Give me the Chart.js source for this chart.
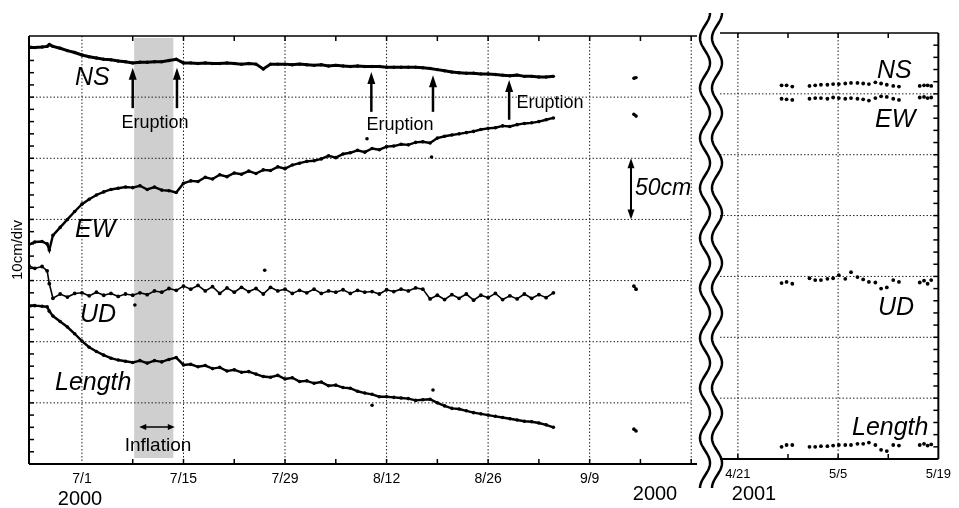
<!DOCTYPE html>
<html>
<head>
<meta charset="utf-8">
<title>GPS displacement 2000-2001</title>
<script src="https://cdn.jsdelivr.net/npm/chart.js@4.4.0/dist/chart.umd.min.js"></script>
<style>
  body { margin: 0; background: #fff; }
  #wrap { position: relative; width: 959px; height: 508px; }
  #wrap canvas { position: absolute; left: 0; top: 0; }
</style>
</head>
<body>
<div id="wrap">
  <canvas id="c2000" width="959" height="508"></canvas>
  <canvas id="c2001" width="959" height="508"></canvas>
</div>
<script>
// Days counted from 7/1/2000 (left panel) and from 4/21/2001 (right panel)
const days2000 = [-7.3, -6.5, -5.5, -4.8, -4.5,
  -4, -3, -2, -1, 0, 1, 2, 3, 4, 5,
  6, 7, 8, 9, 10, 11, 12, 13, 14, 15,
  16, 17, 18, 19, 20, 21, 22, 23, 24, 25,
  26, 27, 28, 29, 30, 31, 32, 33, 34, 35,
  36, 37, 38, 39, 40, 41, 42, 43, 44, 45,
  46, 47, 48, 49, 50, 51, 52, 53, 54, 55,
  56, 57, 58, 59, 60, 61, 62, 63, 64, 65,
  70, 76.1, 76.4];

// displacement, cm (axis 0..70, 10 cm per division)
const ns2000 = [68.2, 68.1, 68.2, 68.3, 68.6,
  68.3, 68.0, 67.6, 67.3, 66.9, 66.6, 66.4, 66.2, 66.1, 65.9,
  65.8, 65.6, 65.7, 65.7, 65.8, 65.8, 66.0, 66.2, 65.6, 65.6,
  65.5, 65.6, 65.5, 65.5, 65.6, 65.5, 65.4, 65.5, 65.4, 64.6,
  65.4, 65.4, 65.4, 65.3, 65.4, 65.3, 65.2, 65.3, 65.1, 65.2,
  65.1, 65.0, 65.1, 65.0, 65.0, 65.0, 64.9, 64.9, 64.9, 64.9,
  64.9, 64.8, 64.7, 64.5, 64.3, 64.1, 64.0, 63.9, 63.9, 63.8,
  63.8, 63.7, 63.6, 63.5, 63.6, 63.4, 63.4, 63.3, 63.3, 63.4,
  null, 63.1, 63.2];

const ew2000 = [35.9, 36.3, 36.4, 36.0, 35.0,
  37.4, 38.7, 40.0, 41.3, 42.5, 43.3, 44.0, 44.5, 44.9, 45.1,
  45.3, 45.2, 45.5, 44.9, 45.3, 44.8, 44.7, 44.4, 45.9, 46.3,
  46.2, 46.9, 46.6, 47.3, 47.0, 47.6, 47.4, 47.9, 47.5, 48.1,
  48.0, 48.6, 48.3, 48.9, 49.2, 49.5, 49.6, 49.9, 50.4, 50.1,
  50.7, 50.9, 51.3, 51.0, 51.6, 51.4, 51.9, 52.0, 52.3, 52.2,
  52.6, 52.7, 52.5, 53.3, 53.6, 53.8, 54.0, 54.2, 54.4, 54.7,
  54.9, 55.0, 55.3, 55.2, 55.5, 55.7, 55.8, 56.0, 56.3, 56.6,
  null, 57.2, 56.9];

const ud2000 = [32.4, 32.0, 32.3, 31.6, 29.5,
  27.1, 27.8, 27.3, 27.9, 28.0, 27.5, 28.1, 27.6, 27.9, 27.4,
  27.8, 27.6, 28.0, 27.7, 28.3, 28.1, 28.7, 28.4, 29.1, 28.6,
  29.2, 28.3, 29.0, 27.9, 28.8, 28.1, 28.9, 28.2, 28.7, 27.8,
  28.9, 28.3, 28.6, 27.9, 28.4, 28.0, 28.6, 27.9, 28.3, 28.1,
  28.5, 27.9, 28.4, 28.1, 28.2, 27.8, 28.5, 28.2, 28.6, 28.3,
  28.8, 28.6, 27.0, 27.6, 26.9, 27.7, 27.1, 27.8, 26.8, 27.6,
  27.2, 27.9, 26.9, 27.5, 27.0, 27.8, 27.1, 27.7, 27.2, 28.0,
  null, 29.1, 28.6];

const len2000 = [25.8, 25.9, 25.8, 25.7, 25.0,
  24.2, 23.3, 22.4, 21.3, 20.1, 19.1, 18.4, 17.8, 17.3, 17.0,
  16.8, 16.6, 16.9, 16.5, 16.9, 16.7, 17.1, 17.4, 16.2, 16.3,
  15.9, 16.1, 15.6, 15.8, 15.2, 15.4, 15.0, 15.1, 14.7, 14.3,
  14.2, 14.5, 13.9, 14.1, 13.5, 13.6, 13.2, 13.4, 12.8, 12.9,
  12.5, 12.4, 11.9, 11.6, 11.4, 11.0, 11.0, 10.9, 10.8, 10.7,
  10.4, 10.5, 10.6, 10.0, 9.5, 9.1, 9.0, 8.7, 8.4, 8.2,
  8.0, 7.8, 7.6, 7.4, 7.2, 7.0, 6.9, 6.7, 6.4, 6.0,
  null, 5.7, 5.4];

// stray points off the main traces
const strayDays2000 = [39.3, 48.2, 25.2, 7.3, 40.0, 48.4];
const strayVals2000 = [53.2, 50.2, 31.7, 26.0, 9.6, 12.1];

const days2001 = [6.1, 6.8, 7.6, 10.0, 10.8, 11.6, 12.5, 13.3, 14.1, 15.0, 15.8, 16.7,
  17.5, 18.3, 19.2, 20.0, 20.8, 21.7, 22.5, 25.4, 26.0, 26.5, 27.0];
const ns2001 = [61.4, 61.4, 61.2, 61.3, 61.4, 61.5, 61.5, 61.6, 61.6, 61.7, 61.8, 61.8,
  61.7, 61.6, 61.9, 61.7, 61.5, 61.3, 61.2, 61.3, 61.4, 61.4, 61.3];
const ew2001 = [59.2, 59.1, 59.0, 59.2, 59.3, 59.3, 59.2, 59.4, 59.3, 59.2, 59.3, 59.2,
  59.1, 58.9, 59.3, 59.6, 59.5, 59.2, 59.0, 59.4, 59.5, 59.3, 59.4];
const ud2001 = [28.9, 29.1, 28.8, 29.7, 29.4, 29.4, 29.6, 29.7, 30.2, 29.6, 30.7, 29.9,
  29.5, 29.1, 29.0, 28.0, 28.2, 29.4, 29.1, 29.0, 29.3, 28.8, 29.4];
const len2001 = [2.0, 2.3, 2.3, 2.0, 2.0, 2.1, 2.1, 2.2, 2.3, 2.3, 2.3, 2.5,
  2.5, 2.7, 2.3, 1.5, 1.3, 2.3, 2.2, 2.3, 2.5, 2.2, 2.4];

// tick labels
const tickDays2000 = [0, 14, 28, 42, 56, 70];
const tickLabels2000 = ['7/1', '7/15', '7/29', '8/12', '8/26', '9/9'];
const tickDays2001 = [0, 14, 28];
const tickLabels2001 = ['4/21', '5/5', '5/19'];

// events
const eruptionDays = [7.0, 13.1, 39.9, 48.4, 58.9];
const inflationDays = [7.2, 12.6];

const FONT = '"Liberation Sans", Arial, Helvetica, sans-serif';
Chart.defaults.font.family = FONT;
Chart.defaults.color = '#000';

function pts(xs, ys) {
  return xs.map((d, i) => ({ x: d, y: ys[i] }));
}

function dotted(ctx, x1, y1, x2, y2) {
  ctx.save();
  ctx.setLineDash([1.5, 2]);
  ctx.lineWidth = 1;
  ctx.strokeStyle = '#222';
  ctx.beginPath(); ctx.moveTo(x1, y1); ctx.lineTo(x2, y2); ctx.stroke();
  ctx.restore();
}

function solid(ctx, x1, y1, x2, y2, w) {
  ctx.save();
  ctx.lineWidth = w;
  ctx.strokeStyle = '#000';
  ctx.beginPath(); ctx.moveTo(x1, y1); ctx.lineTo(x2, y2); ctx.stroke();
  ctx.restore();
}

function head(ctx, x, y, dx, dy, len, half) {
  // filled arrow head pointing along (dx, dy)
  ctx.beginPath();
  ctx.moveTo(x, y);
  ctx.lineTo(x - dx * len - dy * half, y - dy * len + dx * half);
  ctx.lineTo(x - dx * len + dy * half, y - dy * len - dx * half);
  ctx.closePath();
  ctx.fill();
}

function text(ctx, str, x, y, font, align) {
  ctx.font = font;
  ctx.textAlign = align || 'left';
  ctx.textBaseline = 'alphabetic';
  ctx.fillText(str, x, y);
}

// grid, frame and notes for the 2000 panel
const frame2000 = {
  id: 'frame2000',
  beforeDatasetsDraw(chart) {
    const { ctx, chartArea: a, scales: { x, y } } = chart;
    const gridRight = x.getPixelForValue(84);
    ctx.save();
    ctx.fillStyle = '#cfcfcf';
    const b0 = x.getPixelForValue(inflationDays[0]);
    const b1 = x.getPixelForValue(inflationDays[1]);
    ctx.fillRect(b0, a.top + 2, b1 - b0, a.bottom - a.top - 8);
    for (let v = 10; v < 70; v += 10) dotted(ctx, a.left, y.getPixelForValue(v), gridRight, y.getPixelForValue(v));
    for (let d = 0; d <= 84; d += 14) dotted(ctx, x.getPixelForValue(d), a.top, x.getPixelForValue(d), a.bottom);
    solid(ctx, a.left, a.top, a.left, a.bottom, 2);
    solid(ctx, a.left, a.top, a.right, a.top, 1.5);
    solid(ctx, a.left, a.bottom, a.right, a.bottom, 2);
    for (let v = 2; v < 70; v += 2) solid(ctx, a.left, y.getPixelForValue(v), a.left + 5, y.getPixelForValue(v), 1.5);
    for (let d = 7; d <= 84; d += 7) {
      const px = x.getPixelForValue(d);
      solid(ctx, px, a.bottom, px, a.bottom - 5, 1.5);
      solid(ctx, px, a.top, px, a.top + 5, 1.5);
    }
    ctx.restore();
  },
  afterDatasetsDraw(chart) {
    const { ctx, scales: { x, y } } = chart;
    ctx.save();
    ctx.fillStyle = '#000';
    ctx.strokeStyle = '#000';
    // eruption arrows (tip, foot in cm)
    const spans = [[64.8, 58.2], [64.8, 58.2], [64.1, 57.6], [63.6, 57.6], [62.8, 56.3]];
    eruptionDays.forEach((d, i) => {
      const px = x.getPixelForValue(d);
      const top = y.getPixelForValue(spans[i][0]);
      const bot = y.getPixelForValue(spans[i][1]);
      ctx.lineWidth = 2.5;
      ctx.beginPath(); ctx.moveTo(px, bot); ctx.lineTo(px, top + 8); ctx.stroke();
      head(ctx, px, top, 0, -1, 12, 4);
    });
    // 50cm scale bar
    const sx = x.getPixelForValue(75.7);
    const s0 = y.getPixelForValue(50), s1 = y.getPixelForValue(40);
    ctx.lineWidth = 2;
    ctx.beginPath(); ctx.moveTo(sx, s0 + 8); ctx.lineTo(sx, s1 - 8); ctx.stroke();
    head(ctx, sx, s0, 0, -1, 10, 3.5);
    head(ctx, sx, s1, 0, 1, 10, 3.5);
    // inflation span
    const iy = y.getPixelForValue(6.05);
    const i0 = x.getPixelForValue(7.9), i1 = x.getPixelForValue(12.8);
    ctx.lineWidth = 1.5;
    ctx.beginPath(); ctx.moveTo(i0 + 5, iy); ctx.lineTo(i1 - 5, iy); ctx.stroke();
    head(ctx, i0, iy, -1, 0, 7, 3);
    head(ctx, i1, iy, 1, 0, 7, 3);

    const lab = 'italic 25px ' + FONT;
    text(ctx, 'NS', 75, 85, lab);
    text(ctx, 'EW', 75, 237, lab);
    text(ctx, 'UD', 80, 322, lab);
    text(ctx, 'Length', 55, 390, lab);
    const note = '18px ' + FONT;
    text(ctx, 'Eruption', 155, 128, note, 'center');
    text(ctx, 'Eruption', 400, 130, note, 'center');
    text(ctx, 'Eruption', 550, 108, note, 'center');
    text(ctx, 'Inflation', 158, 451, '19px ' + FONT, 'center');
    text(ctx, '50cm', 635, 195, 'italic 23px ' + FONT);
    text(ctx, '2000', 80, 505, '20px ' + FONT, 'center');
    text(ctx, '2000', 655, 500, '20px ' + FONT, 'center');
    ctx.restore();
  }
};

const frame2001 = {
  id: 'frame2001',
  beforeDatasetsDraw(chart) {
    const { ctx, chartArea: a, scales: { x, y } } = chart;
    ctx.save();
    for (let v = 10; v < 70; v += 10) dotted(ctx, a.left, y.getPixelForValue(v), a.right, y.getPixelForValue(v));
    for (let d = 0; d < 28; d += 14) dotted(ctx, x.getPixelForValue(d), a.top, x.getPixelForValue(d), a.bottom);
    solid(ctx, a.right, a.top, a.right, a.bottom, 2);
    solid(ctx, a.left, a.top, a.right, a.top, 1.5);
    solid(ctx, a.left, a.bottom, a.right, a.bottom, 2);
    for (let v = 2; v < 70; v += 2) solid(ctx, a.right, y.getPixelForValue(v), a.right - 5, y.getPixelForValue(v), 1.5);
    for (let d = 0; d < 28; d += 7) {
      const px = x.getPixelForValue(d);
      solid(ctx, px, a.bottom, px, a.bottom - 5, 1.5);
      solid(ctx, px, a.top, px, a.top + 5, 1.5);
    }
    ctx.restore();
  },
  afterDatasetsDraw(chart) {
    const { ctx } = chart;
    ctx.save();
    ctx.fillStyle = '#000';
    const lab = 'italic 25px ' + FONT;
    text(ctx, 'NS', 877, 78, lab);
    text(ctx, 'EW', 875, 127, lab);
    text(ctx, 'UD', 878, 315, lab);
    text(ctx, 'Length', 852, 435, lab);
    text(ctx, '2001', 754, 500, '20px ' + FONT, 'center');
    // axis break
    ctx.lineWidth = 2.5;
    ctx.strokeStyle = '#000';
    [705, 717].forEach(cx => {
      ctx.beginPath();
      for (let py = 13; py <= 488; py += 1) {
        const px = cx + 5 * Math.cos((py - 13) / 50 * 2 * Math.PI);
        if (py === 13) ctx.moveTo(px, py); else ctx.lineTo(px, py);
      }
      ctx.stroke();
    });
    ctx.restore();
  }
};

function trace(xs, ys, width, r) {
  return {
    data: pts(xs, ys),
    borderColor: '#000',
    backgroundColor: '#000',
    borderWidth: width,
    pointRadius: r,
    pointBorderWidth: 0,
    pointBackgroundColor: '#000',
    spanGaps: false,
    tension: 0
  };
}

function dots(xs, ys, r) {
  return {
    data: pts(xs, ys),
    showLine: false,
    pointRadius: r,
    pointBorderWidth: 0,
    pointBackgroundColor: '#000'
  };
}

new Chart(document.getElementById('c2000'), {
  type: 'line',
  data: {
    datasets: [
      trace(days2000, ns2000, 3, 1.7),
      trace(days2000, ew2000, 2.4, 1.8),
      trace(days2000, ud2000, 1.6, 1.9),
      trace(days2000, len2000, 2.4, 1.8),
      dots(strayDays2000, strayVals2000, 1.8)
    ]
  },
  options: {
    responsive: false,
    animation: false,
    layout: { padding: { left: 0, top: 36, right: 262, bottom: 0 } },
    plugins: { legend: { display: false }, tooltip: { enabled: false } },
    scales: {
      x: {
        type: 'linear', min: -7.3, max: 84.8,
        grid: { display: false, drawTicks: false },
        border: { display: false },
        afterBuildTicks: s => { s.ticks = tickDays2000.map(v => ({ value: v })); },
        afterFit: s => { s.height = 44; },
        ticks: {
          padding: 7, maxRotation: 0, autoSkip: false, color: '#000',
          font: { size: 14 },
          callback: (v, i) => tickLabels2000[i]
        }
      },
      y: {
        min: 0, max: 70,
        grid: { display: false, drawTicks: false },
        border: { display: false },
        ticks: { display: false },
        title: { display: true, text: '10cm/div', color: '#000', font: { size: 15 }, padding: { top: 9, bottom: 0 } },
        afterFit: s => { s.width = 29; }
      }
    }
  },
  plugins: [frame2000]
});

new Chart(document.getElementById('c2001'), {
  type: 'line',
  data: {
    datasets: [
      dots(days2001, ns2001, 1.9),
      dots(days2001, ew2001, 1.9),
      dots(days2001, ud2001, 1.9),
      dots(days2001, len2001, 1.9)
    ]
  },
  options: {
    responsive: false,
    animation: false,
    layout: { padding: { left: 720, top: 33, right: 19, bottom: 0 } },
    plugins: { legend: { display: false }, tooltip: { enabled: false } },
    scales: {
      x: {
        type: 'linear', min: -2.5, max: 28,
        grid: { display: false, drawTicks: false },
        border: { display: false },
        afterBuildTicks: s => { s.ticks = tickDays2001.map(v => ({ value: v })); },
        afterFit: s => { s.height = 49; },
        ticks: {
          padding: 8, maxRotation: 0, autoSkip: false, color: '#000',
          font: { size: 13 },
          callback: (v, i) => tickLabels2001[i]
        }
      },
      y: { display: false, min: 0, max: 70 }
    }
  },
  plugins: [frame2001]
});
</script>
</body>
</html>
